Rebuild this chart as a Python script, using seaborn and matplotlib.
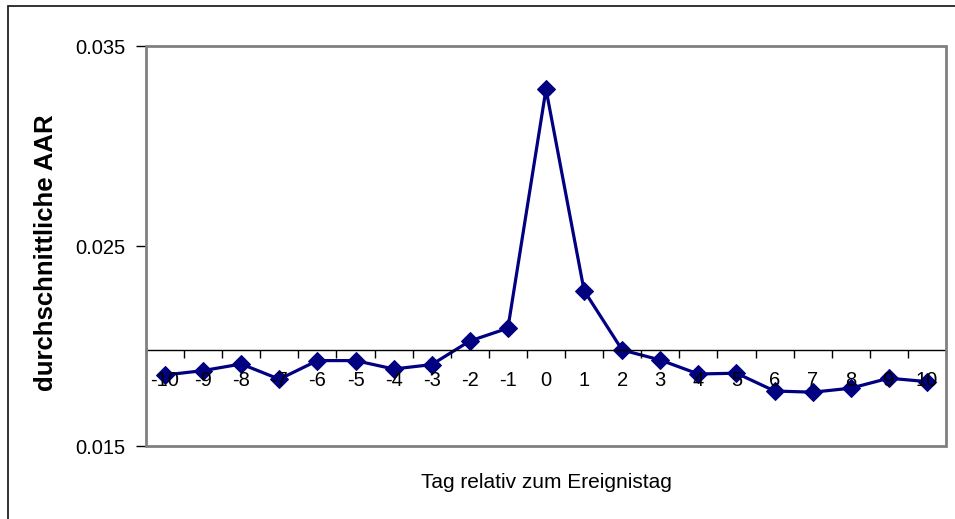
import matplotlib
matplotlib.use("Agg")
import matplotlib.pyplot as plt
import numpy as np
import pandas as pd
import seaborn as sns
from matplotlib.patches import Rectangle

# data
days = list(range(-10, 11))
aar = [0.01855, 0.01877, 0.01910, 0.01834, 0.01927, 0.01927, 0.01885,
       0.01907, 0.02025, 0.02089, 0.03284, 0.02277, 0.01980, 0.01930,
       0.01860, 0.01864, 0.01775, 0.01769, 0.01789, 0.01839, 0.01822]
y_ticks = [0.015, 0.025, 0.035]
x_cross = 0.0198

sns.set_style("white")
plt.rcParams['font.family'] = ['Liberation Sans', 'DejaVu Sans']
plt.rcParams['text.color'] = 'black'

df = pd.DataFrame({'Tag': days, 'AAR': aar})

fig = plt.figure(figsize=(9.55, 5.19), dpi=100)
ax = fig.add_axes([146 / 955, 1 - 446 / 519, 800 / 955, 400 / 519])

sns.lineplot(data=df, x='Tag', y='AAR', ax=ax, color='#000080', linewidth=2.3,
             marker='D', markersize=9, markeredgecolor='#000080')

ax.set_xlim(-10.5, 10.5)
ax.set_ylim(0.015, 0.035)
ax.set_axisbelow(False)

# y axis
ax.set_yticks(y_ticks)
ax.set_yticklabels(["%.3f" % v for v in y_ticks])
ax.tick_params(axis='y', direction='out', length=7, width=1, color='black',
               labelcolor='black', labelsize=14.5, pad=8, left=True)

# x axis crossing inside the plot, ticks between categories
for s in ['left', 'top', 'right']:
    ax.spines[s].set_visible(False)
ax.spines['bottom'].set_position(('data', x_cross))
ax.spines['bottom'].set_color('black')
ax.spines['bottom'].set_linewidth(1)
ax.set_xticks(days)
ax.set_xticklabels([str(d) for d in days])
ax.set_xticks(np.arange(-10.5, 11, 1), minor=True)
ax.tick_params(axis='x', which='major', length=0, labelsize=14.5, pad=15,
               labelcolor='black')
ax.tick_params(axis='x', which='minor', direction='out', length=6, width=1,
               color='black', bottom=True)
ax.set_xlabel('')
ax.set_ylabel('')

# gray plot-area frame
ax.add_patch(Rectangle((0, 0), 1, 1, transform=ax.transAxes, fill=False,
                       edgecolor='#808080', linewidth=2, clip_on=False, zorder=3))

# outer chart border (only top and left visible)
fig.patches.append(Rectangle((8 / 955, -0.1), 1.2, 1.1 - 6.5 / 519,
                             transform=fig.transFigure, fill=False,
                             edgecolor='#222222', linewidth=1.3))

fig.text(46 / 955, 1 - 253 / 519, 'durchschnittliche AAR', rotation=90,
         ha='center', va='center', fontsize=18.5, fontweight='bold')
fig.text(546 / 955, 1 - 483 / 519, 'Tag relativ zum Ereignistag',
         ha='center', va='center', fontsize=15)

fig.savefig('out.png', dpi=100)
